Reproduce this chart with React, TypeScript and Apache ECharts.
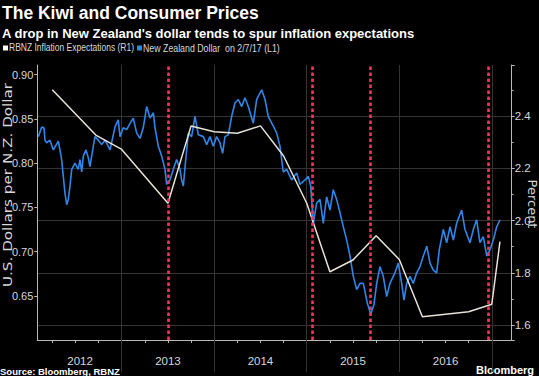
import React, { useEffect, useRef } from "react";
import * as echarts from "echarts";

// New Zealand Dollar (USD per NZD), left axis — time in fractional years
const nzdYears = [
  2012.099, 2012.136, 2012.16, 2012.171, 2012.189, 2012.225, 2012.261, 2012.315, 2012.333, 2012.351,
  2012.369, 2012.387, 2012.406, 2012.423, 2012.441, 2012.46, 2012.495, 2012.531, 2012.549, 2012.568,
  2012.585, 2012.614, 2012.639, 2012.657, 2012.693, 2012.711, 2012.747, 2012.784, 2012.82, 2012.874,
  2012.928, 2012.963, 2012.982, 2013.017, 2013.054, 2013.09, 2013.125, 2013.162, 2013.198, 2013.233,
  2013.27, 2013.306, 2013.342, 2013.36, 2013.396, 2013.432, 2013.468, 2013.486, 2013.522, 2013.558,
  2013.594, 2013.63, 2013.648, 2013.666, 2013.692, 2013.72, 2013.756, 2013.792, 2013.828, 2013.882,
  2013.919, 2013.954, 2013.99, 2014.026, 2014.062, 2014.091, 2014.116, 2014.152, 2014.189, 2014.224,
  2014.26, 2014.297, 2014.332, 2014.368, 2014.422, 2014.459, 2014.513, 2014.549, 2014.584, 2014.638,
  2014.675, 2014.711, 2014.746, 2014.783, 2014.837, 2014.891, 2014.927, 2014.981, 2015.017, 2015.043,
  2015.071, 2015.107, 2015.143, 2015.179, 2015.215, 2015.251, 2015.287, 2015.323, 2015.359, 2015.395,
  2015.432, 2015.467, 2015.503, 2015.54, 2015.575, 2015.611, 2015.654, 2015.691, 2015.726, 2015.756,
  2015.791, 2015.827, 2015.864, 2015.899, 2015.953, 2015.989, 2016.026, 2016.051, 2016.08, 2016.116,
  2016.151, 2016.188, 2016.224, 2016.26, 2016.297, 2016.332, 2016.368, 2016.404, 2016.432, 2016.476,
  2016.512, 2016.548, 2016.584, 2016.62, 2016.674, 2016.71, 2016.764, 2016.8, 2016.836, 2016.872,
  2016.908, 2016.945, 2016.98, 2017.016, 2017.053, 2017.088,
];
const nzdValues = [
  0.83, 0.841, 0.84, 0.826, 0.823, 0.826, 0.815, 0.825, 0.815, 0.804,
  0.785, 0.766, 0.753, 0.759, 0.774, 0.793, 0.8, 0.793, 0.804, 0.79,
  0.808, 0.815, 0.806, 0.796, 0.819, 0.83, 0.826, 0.821, 0.826, 0.815,
  0.841, 0.849, 0.83, 0.84, 0.838, 0.845, 0.851, 0.834, 0.828, 0.84,
  0.864, 0.851, 0.857, 0.84, 0.819, 0.808, 0.793, 0.776, 0.781, 0.793,
  0.804, 0.793, 0.781, 0.774, 0.804, 0.834, 0.83, 0.853, 0.832, 0.83,
  0.821, 0.83, 0.819, 0.83, 0.823, 0.811, 0.83, 0.832, 0.853, 0.868,
  0.872, 0.864, 0.874, 0.864, 0.845, 0.872, 0.883, 0.872, 0.853, 0.842,
  0.834, 0.819, 0.79, 0.793, 0.781, 0.789, 0.776, 0.781, 0.785, 0.774,
  0.732, 0.755, 0.759, 0.732, 0.762, 0.747, 0.77, 0.759, 0.744, 0.728,
  0.713, 0.695, 0.672, 0.657, 0.664, 0.664, 0.642, 0.629, 0.64, 0.664,
  0.683, 0.672, 0.649, 0.664, 0.676, 0.687, 0.664, 0.645, 0.664, 0.672,
  0.664, 0.676, 0.683, 0.695, 0.706, 0.687, 0.679, 0.676, 0.702, 0.725,
  0.71, 0.728, 0.713, 0.732, 0.747, 0.725, 0.71, 0.725, 0.736, 0.71,
  0.717, 0.695, 0.702, 0.713, 0.728, 0.736,
];

// RBNZ inflation expectations (percent), right axis
const rbnzYears = [
  2012.25, 2012.72, 2013.0, 2013.5, 2013.75, 2014.0, 2014.25, 2014.5, 2014.75, 2015.0,
  2015.25, 2015.5, 2015.75, 2016.0, 2016.25, 2016.75, 2017.0, 2017.088,
];
const rbnzValues = [
  2.5, 2.327, 2.272, 2.066, 2.362, 2.34, 2.334, 2.362, 2.247, 2.066,
  1.804, 1.849, 1.942, 1.851, 1.632, 1.651, 1.68, 1.919,
];

// Red dotted event markers (dollar drops)
const eventYears = [2013.497, 2015.064, 2015.691, 2016.962];

// X axis: year separators and labels
const yearBoundaries = [2013, 2014, 2015, 2016, 2017];
const yearLabelPositions = [2012.55, 2013.5, 2014.5, 2015.5, 2016.5];
const xMin = 2012.088;
const xMax = 2017.215;

const quarterTicks: number[] = [];
for (let q = 2012.25; q <= 2017.001; q += 0.25) quarterTicks.push(Math.round(q * 100) / 100);

const SANS = "'Liberation Sans', Arial, sans-serif";
const WIDE = "'DejaVu Sans', sans-serif";

export default function App() {
  const ref = useRef<HTMLDivElement>(null);
  useEffect(() => {
    if (!ref.current) return;
    const chart = echarts.init(ref.current, null, { renderer: "svg" });
    const axisColor = "#b8b8b8";
    const gridColor = "#343434";
    const labelColor = "#d8d8d8";
    chart.setOption({
      animation: false,
      backgroundColor: "#000",
      grid: { left: 37.3, right: 27.3, top: 65, bottom: 36 },
      xAxis: [
        {
          type: "value",
          min: xMin,
          max: xMax,
          position: "bottom",
          axisLine: { show: true, lineStyle: { color: axisColor, width: 1 } },
          axisTick: { show: true, customValues: quarterTicks, length: 3, lineStyle: { color: axisColor } },
          axisLabel: {
            show: true,
            customValues: yearLabelPositions,
            formatter: (v: number) => String(Math.floor(v)),
            color: labelColor,
            fontFamily: SANS,
            fontSize: 11.5,
            margin: 15,
          },
          splitLine: { show: false },
        },
        {
          type: "value",
          min: xMin,
          max: xMax,
          position: "bottom",
          axisLine: { show: false },
          axisTick: { show: true, customValues: yearBoundaries, length: 32, lineStyle: { color: gridColor } },
          axisLabel: { show: false },
          splitLine: { show: true, lineStyle: { color: gridColor, width: 1 } },
        },
      ],
      yAxis: [
        {
          type: "value",
          min: 0.6,
          max: 0.911,
          splitNumber: 6,
          position: "left",
          axisLine: { show: true, lineStyle: { color: axisColor } },
          axisTick: { show: true, length: 3, lineStyle: { color: axisColor } },
          axisLabel: {
            color: labelColor,
            fontFamily: SANS,
            fontSize: 11,
            margin: 4,
            showMinLabel: false,
            showMaxLabel: false,
            formatter: (v: number) => v.toFixed(2),
          },
          splitLine: { show: false },
        },
        {
          type: "value",
          min: 1.543,
          max: 2.595,
          splitNumber: 5,
          position: "right",
          axisLine: { show: true, lineStyle: { color: axisColor } },
          axisTick: { show: true, length: 3, lineStyle: { color: axisColor } },
          minorTick: { show: true, splitNumber: 2, length: 2, lineStyle: { color: axisColor } },
          axisLabel: {
            color: labelColor,
            fontFamily: SANS,
            fontSize: 11.5,
            margin: 3,
            showMinLabel: false,
            showMaxLabel: false,
            formatter: (v: number) => v.toFixed(1),
          },
          splitLine: { show: true, showMinLine: false, showMaxLine: false, lineStyle: { color: gridColor, width: 1 } },
        },
      ],
      series: [
        {
          name: "New Zealand Dollar on 2/7/17 (L1)",
          type: "line",
          xAxisIndex: 0,
          yAxisIndex: 0,
          data: nzdYears.map((x, i) => [x, nzdValues[i]]),
          symbol: "none",
          lineStyle: { color: "#2f86e8", width: 1.6 },
          silent: true,
          z: 2,
        },
        {
          name: "RBNZ Inflation Expectations (R1)",
          type: "line",
          xAxisIndex: 0,
          yAxisIndex: 1,
          data: rbnzYears.map((x, i) => [x, rbnzValues[i]]),
          symbol: "none",
          lineStyle: { color: "#e8e3d8", width: 1.5 },
          silent: true,
          z: 3,
          markLine: {
            silent: true,
            symbol: ["none", "none"],
            label: { show: false },
            lineStyle: { color: "#f0365c", width: 2.6, type: [3.5, 2.5] },
            data: eventYears.map((x) => ({ xAxis: x })),
          },
        },
      ],
      graphic: [
        {
          type: "text",
          left: 2,
          top: 4,
          style: { text: "The Kiwi and Consumer Prices", fill: "#ffffff", font: `bold 17.5px ${SANS}` },
        },
        {
          type: "text",
          left: 2,
          top: 27,
          style: {
            text: "A drop in New Zealand's dollar tends to spur inflation expectations",
            fill: "#ffffff",
            font: `bold 13px ${SANS}`,
          },
        },
        { type: "rect", shape: { x: 3, y: 45.5, width: 5, height: 5 }, style: { fill: "#ffffff" } },
        {
          type: "text",
          x: 9,
          y: 48,
          scaleX: 0.85,
          style: {
            text: "RBNZ Inflation Expectations (R1)",
            fill: "#d8d8d8",
            font: `10px ${SANS}`,
            verticalAlign: "middle",
          },
        },
        { type: "rect", shape: { x: 137, y: 45.5, width: 5, height: 5 }, style: { fill: "#2f86e8" } },
        {
          type: "text",
          x: 143,
          y: 48,
          scaleX: 0.88,
          style: {
            text: "New Zealand Dollar  on 2/7/17 (L1)",
            fill: "#d8d8d8",
            font: `10px ${SANS}`,
            verticalAlign: "middle",
          },
        },
        {
          type: "text",
          x: 7.5,
          y: 185,
          rotation: Math.PI / 2,
          scaleX: 1.17,
          style: {
            text: "U.S. Dollars per N.Z. Dollar",
            fill: "#d8d8d8",
            font: `13px ${WIDE}`,
            align: "center",
            verticalAlign: "middle",
          },
        },
        {
          type: "text",
          x: 532,
          y: 204,
          rotation: -Math.PI / 2,
          style: { text: "Percent", fill: "#d8d8d8", font: `13px ${WIDE}`, align: "center", verticalAlign: "middle" },
        },
        {
          type: "text",
          left: 0,
          top: 366,
          style: { text: "Source: Bloomberg, RBNZ", fill: "#ffffff", font: `bold 9.5px ${SANS}` },
        },
        {
          type: "text",
          left: 476,
          top: 364,
          style: { text: "Bloomberg", fill: "#ffffff", font: `bold 11px ${SANS}` },
        },
      ],
    });
    return () => chart.dispose();
  }, []);
  return (
    <div
      ref={ref}
      style={{ position: "fixed", left: 0, top: 0, width: 539, height: 376, background: "#000" }}
    />
  );
}
